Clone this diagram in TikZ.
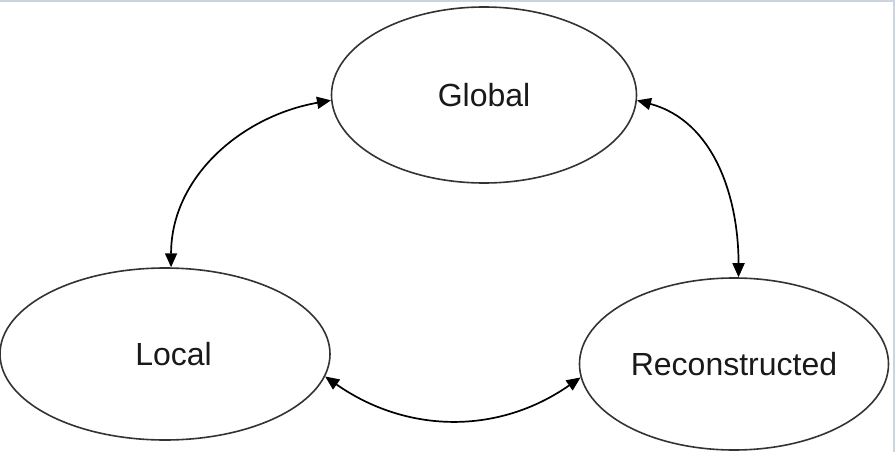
\documentclass[tikz,border=0pt]{standalone}
\usepackage{fontspec}
\setmainfont{Liberation Sans}
\usetikzlibrary{shapes.geometric,arrows.meta}
\begin{document}
\begin{tikzpicture}[x=1pt,y=-1pt,
  state/.style={ellipse,draw=black!80,line width=1.6pt,inner sep=0pt,font=\fontsize{32}{38}\selectfont,text=black!90},
  link/.style={line width=1.7pt,{Triangle[length=14pt,width=12pt]}-{Triangle[length=14pt,width=12pt]}}]
\useasboundingbox (0,0) rectangle (895,452);
\fill[fill={rgb,255:red,205;green,211;blue,224}] (0,0) rectangle (895,2.5);
\fill[fill={rgb,255:red,205;green,211;blue,224}] (892.5,0) rectangle (895,452);
\node[state,minimum width=305pt,minimum height=176pt] (G) at (484,95) {Global};
\node[state,minimum width=330pt,minimum height=172pt] (L) at (165,354) {\hspace*{17pt}Local};
\node[state,minimum width=309pt,minimum height=172pt] (R) at (734,364) {Reconstructed};
\draw[link] (G.182) to[out=190,in=90] (L.86);
\draw[link] (G.-2) to[out=-15,in=90] (R.87);
\draw[link] (L.-8) to[out=-35,in=-145] (R.185);
\end{tikzpicture}
\end{document}
